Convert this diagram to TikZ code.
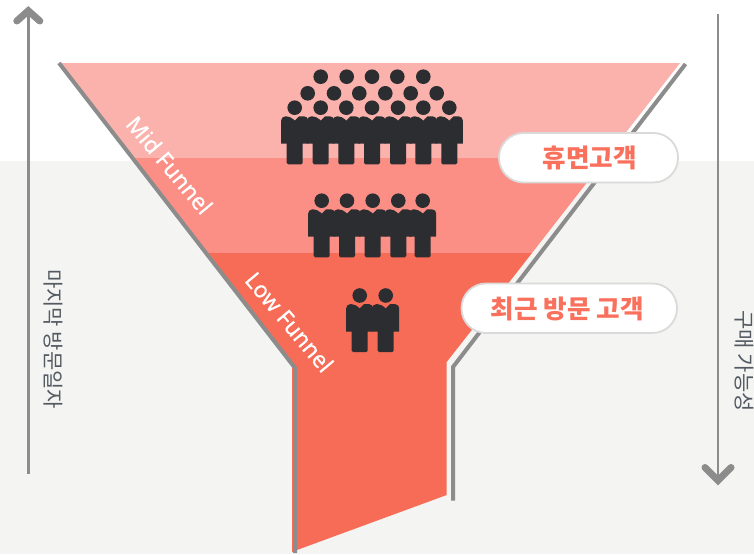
\documentclass[tikz,border=0pt]{standalone}
\usepackage{fontspec}
\setmainfont{Noto Sans}
\newfontfamily\krfont{Noto Sans CJK KR}
\newfontfamily\funnelfont[FakeBold=0.35]{Noto Sans}
\definecolor{bgg}{HTML}{F4F4F2}
\definecolor{btop}{HTML}{FBB1AC}
\definecolor{bmid}{HTML}{FB8F85}
\definecolor{blow}{HTML}{F76C57}
\definecolor{edgeg}{HTML}{8C8C8C}
\definecolor{ppl}{HTML}{2B2D30}
\definecolor{pillb}{HTML}{DADADA}
\definecolor{pillt}{HTML}{F9705C}
\definecolor{sidet}{HTML}{535A62}
\tikzset{
  rim/.style={draw=edgeg,line width=4pt,line cap=butt,line join=miter},
  axisline/.style={draw=edgeg,line width=2.6pt},
  chevron/.style={draw=edgeg,line width=7pt,line cap=round,line join=miter},
  pill/.style={draw=pillb,line width=1.8pt,fill=white,rounded corners=24.5pt},
  pilltext/.style={text=pillt,font=\krfont\bfseries\fontsize{25.6}{25.6}\selectfont,inner sep=0pt,anchor=center},
  sidetext/.style={text=sidet,font=\krfont\fontsize{21}{21}\selectfont,inner sep=0pt,rotate=-90,anchor=center},
  funneltext/.style={text=white,font=\funnelfont\fontsize{22.8}{22.8}\selectfont,inner sep=0pt,anchor=center},
}
\newcommand{\fperson}[2]{%
  \fill[ppl] (#1,#2) circle (7.3);
  \fill[ppl,rounded corners=0.8pt] (#1-13.5,#2+36)
    [rounded corners=4pt] -- (#1-13.5,#2+8.7) -- (#1-4.2,#2+8.7)
    [rounded corners=0pt] -- (#1,#2+13) -- (#1+4.2,#2+8.7)
    [rounded corners=4pt] -- (#1+13.5,#2+8.7)
    [rounded corners=0pt] -- (#1+13.5,#2+36) -- (#1+8,#2+36)
    [rounded corners=1.5pt] -- (#1+8,#2+56.7) -- (#1-8,#2+56.7)
    [rounded corners=0pt] -- (#1-8,#2+36) -- cycle;
}
\begin{document}
\begin{tikzpicture}[x=1pt,y=-1pt]
\useasboundingbox (0,0) rectangle (754,554);
\fill[white] (0,0) rectangle (754,161);
\fill[bgg] (0,161) rectangle (754,554);
% funnel bands
\fill[btop] (60,63) -- (680,63) -- (606,158) -- (133,158) -- cycle;
\fill[bmid] (133,158) -- (606,158) -- (532,253) -- (206.5,253) -- cycle;
\fill[blow] (206.5,253) -- (532,253) -- (446.7,362) -- (446.7,495) -- (297,550) -- (292,552) -- (292,364) -- cycle;
% funnel rims
\path[rim] (59,63) -- (295,368) -- (295,553);
\path[rim] (685.5,64) -- (453,367) -- (453,500.5);
% axes
\path[axisline] (28.3,474) -- (28.3,12);
\path[chevron] (16.8,21) -- (28.3,10.8) -- (39.8,21);
\path[axisline] (718,14) -- (718,480);
\path[chevron] (705,467.5) -- (718,480.5) -- (731,467.5);
% people
\foreach \hx in {320.7,346.7,372,397.3,423.3} {\fill[ppl] (\hx,76.7) circle (7.3);}
\foreach \hx in {307.7,334,359.3,385.3,410.7,436.7} {\fill[ppl] (\hx,93.3) circle (7.3);}
\foreach \hx in {294.7,320.7,346.3,372,398,423.3,449.3} {\fperson{\hx}{107.7}}
\foreach \hx in {321.7,347,372.7,398.3,422.7} {\fperson{\hx}{200.7}}
\foreach \hx in {359.7,385.7} {\fperson{\hx}{295.5}}
% labels
\node[funneltext,rotate=-50] (mid) at (169.5,165) {Mid Funnel};
\node[funneltext,rotate=-50] (low) at (289.5,322) {Low Funnel};
\node[sidetext] (lastvisit) at (53,339) {마지막 방문일자};
\node[sidetext] (buy) at (744,361) {구매 가능성};
% pills
\path[pill] (499,133) rectangle (678,182.5);
\node[pilltext] (dormant) at (589.7,158) {휴면고객};
\path[pill] (461.5,283.5) rectangle (677,333);
\node[pilltext] (recent) at (567.5,308.5) {최근 방문 고객};
\end{tikzpicture}
\end{document}
